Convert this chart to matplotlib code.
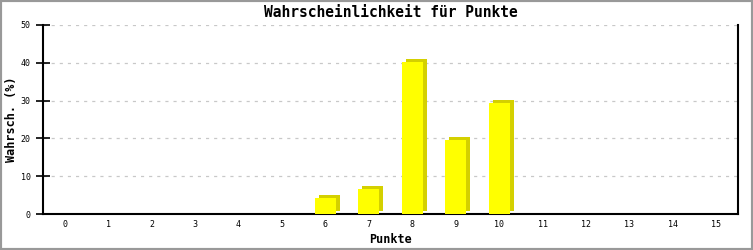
import matplotlib
matplotlib.use("Agg")
import matplotlib.pyplot as plt
from matplotlib.transforms import ScaledTranslation
from matplotlib.patches import Rectangle

# Punkte und Wahrscheinlichkeit (%)
punkte = list(range(16))
wahrsch = [0, 0, 0, 0, 0, 0, 4.2, 6.6, 40.3, 19.7, 29.3, 0, 0, 0, 0, 0]
y_ticks = [0, 10, 20, 30, 40, 50]

plt.rcParams['font.family'] = ['DejaVu Sans Mono']

fig = plt.figure(figsize=(7.53, 2.5), dpi=100)
ax = fig.add_axes([43 / 753, 36 / 250, 695 / 753, 189 / 250])

# Schatten (3D-Effekt) leicht nach rechts oben versetzt
shift = ax.transData + ScaledTranslation(4 / 100, 3 / 100, fig.dpi_scale_trans)
ax.bar(punkte, wahrsch, width=0.48, color='#d4d000', transform=shift, zorder=2)
ax.bar(punkte, wahrsch, width=0.48, color='#ffff00', zorder=3)

ax.set_xlim(-0.5, 15.5)
ax.set_ylim(0, 50)
ax.set_xticks(punkte)
ax.set_yticks(y_ticks)
ax.tick_params(axis='x', length=0, labelsize=6, pad=4)
ax.tick_params(axis='y', direction='inout', length=10, width=1.2, labelsize=6, pad=4)
ax.yaxis.grid(True, linestyle=(0, (2.5, 4)), color='#c8c8c8', linewidth=0.9)
ax.set_axisbelow(True)

ax.spines['top'].set_visible(False)
for s in ['left', 'bottom', 'right']:
    ax.spines[s].set_linewidth(1.5)
    ax.spines[s].set_color('black')

ax.set_title('Wahrscheinlichkeit für Punkte', fontsize=10.5, fontweight='bold', pad=6)
ax.set_xlabel('Punkte', fontsize=8.5, fontweight='bold')
ax.set_ylabel('Wahrsch. (%)', fontsize=8.5, fontweight='bold')
ax.xaxis.set_label_coords(0.5, -19 / 189)
ax.yaxis.set_label_coords(-25 / 695, 0.5)

# grauer Rahmen um das Bild
fig.patches.append(Rectangle((0, 0), 1, 1, transform=fig.transFigure, fill=False,
                             edgecolor='#999999', linewidth=3))

fig.savefig('out.png', dpi=100)
